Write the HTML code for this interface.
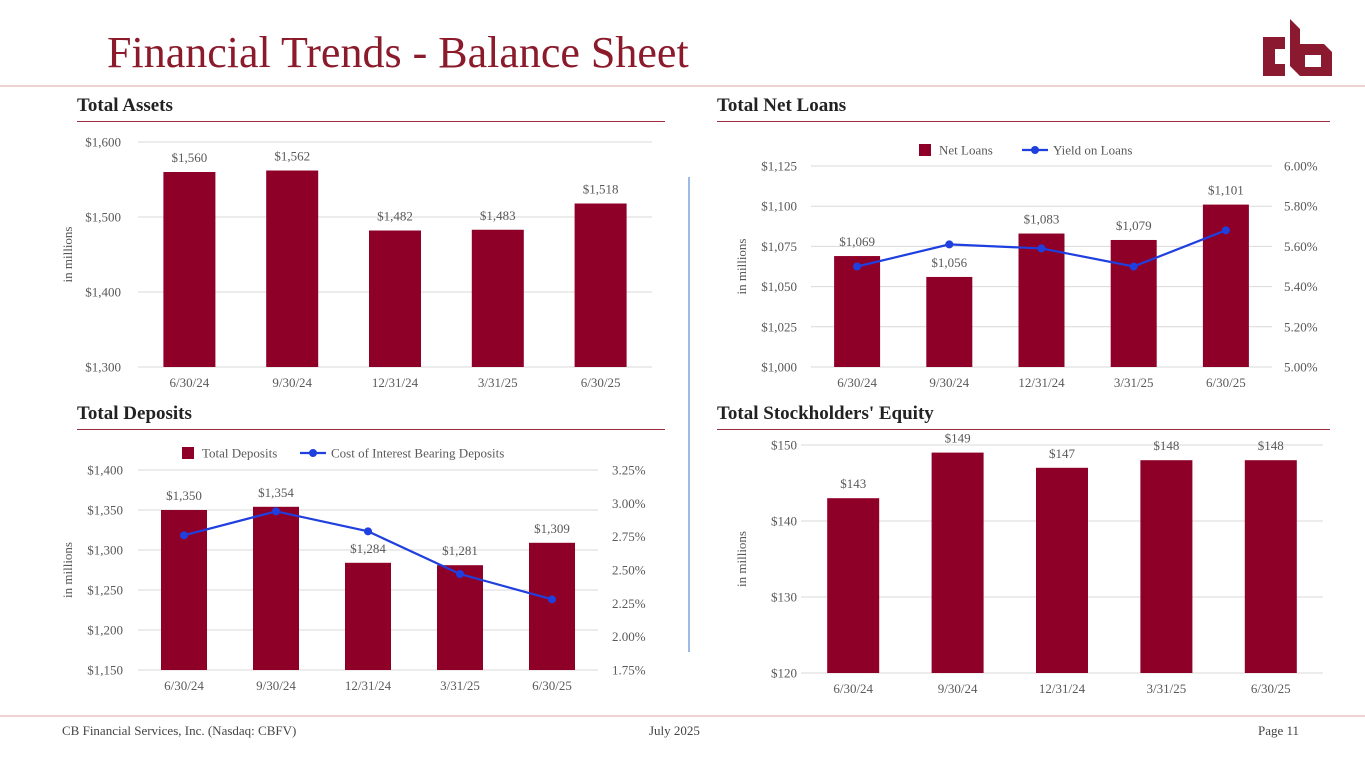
<!DOCTYPE html>
<html><head><meta charset="utf-8"><style>
body{margin:0;width:1365px;height:768px;background:#fff;overflow:hidden;font-family:"Liberation Serif",serif;position:relative}
.t{position:absolute;white-space:nowrap}
.h{position:absolute;font-weight:bold;font-size:19px;color:#222}
.ul{position:absolute;height:1px;background:#a0303f}
svg{position:absolute;left:0;top:0}
</style></head><body>
<div class="t" style="left:107px;top:27px;font-size:44px;color:#8b1a2b">Financial Trends - Balance Sheet</div>
<svg width="1365" height="768">
<g fill="#8b1a30">
<path d="M1263 37h22v12h-10v15h10v12h-22z"/>
<path d="M1290 19l10 10v15l4 0h20l8 8v24h-32l-10-10z"/>
<rect x="1305" y="55" width="16" height="12" fill="#fff"/>
</g>
<line x1="0" y1="86" x2="1365" y2="86" stroke="#e8c4c4" stroke-width="1.5"/>
<line x1="0" y1="716" x2="1365" y2="716" stroke="#e8c4c4" stroke-width="1.5"/>
<line x1="689" y1="177" x2="689" y2="652" stroke="#5b8fd0" stroke-width="1.2"/>
</svg>
<div class="h" style="left:77px;top:95px">Total Assets</div>
<div class="ul" style="left:77px;top:121px;width:588px"></div>
<div class="h" style="left:717px;top:95px">Total Net Loans</div>
<div class="ul" style="left:717px;top:121px;width:613px"></div>
<div class="h" style="left:77px;top:403px">Total Deposits</div>
<div class="ul" style="left:77px;top:429px;width:588px"></div>
<div class="h" style="left:717px;top:403px">Total Stockholders' Equity</div>
<div class="ul" style="left:717px;top:429px;width:613px"></div>
<div class="t" style="left:62px;top:723px;font-size:13px;color:#444">CB Financial Services, Inc. (Nasdaq: CBFV)</div>
<div class="t" style="left:649px;top:723px;font-size:13px;color:#444">July 2025</div>
<div class="t" style="left:1258px;top:723px;font-size:13px;color:#444">Page 11</div>
<svg id="charts" width="1365" height="768"></svg>
<script>
const categories=["6/30/24","9/30/24","12/31/24","3/31/25","6/30/25"];
const assetsValues=[1560,1562,1482,1483,1518];
const assetsTicks=[1300,1400,1500,1600];
const loansValues=[1069,1056,1083,1079,1101];
const loansTicks=[1000,1025,1050,1075,1100,1125];
const yieldValues=[5.50,5.61,5.59,5.50,5.68];
const yieldTicks=[5.0,5.2,5.4,5.6,5.8,6.0];
const depositsValues=[1350,1354,1284,1281,1309];
const depositsTicks=[1150,1200,1250,1300,1350,1400];
const costValues=[2.76,2.94,2.79,2.47,2.28];
const costTicks=[1.75,2.0,2.25,2.5,2.75,3.0,3.25];
const equityValues=[143,149,147,148,148];
const equityTicks=[120,130,140,150];

const svg=document.getElementById('charts');
const NS='http://www.w3.org/2000/svg';
function mk(tag,attrs,text){const e=document.createElementNS(NS,tag);for(const k in attrs)e.setAttribute(k,attrs[k]);if(text!==undefined)e.textContent=text;svg.appendChild(e);return e;}
const fmt=v=>'$'+v.toLocaleString('en-US');
function chart(c){
  const y=v=>c.y0-(v-c.ticks[0])/(c.ticks[c.ticks.length-1]-c.ticks[0])*(c.y0-c.y1);
  const x=i=>c.x0+(i+0.5)*(c.x1-c.x0)/categories.length;
  c.ticks.forEach(t=>{
    const g=mk('line',{x1:c.x0,x2:c.x1,y1:y(t),y2:y(t),stroke:'#d9d9d9','stroke-width':1});
    
    
    const l=mk('text',{x:c.lx,y:y(t)+4.5,'text-anchor':'end','font-size':13,fill:'#595959'},fmt(t));
    
    
  });
  const yt=mk('text',{transform:`translate(${c.tx},${(c.y0+c.y1)/2}) rotate(-90)`,'text-anchor':'middle','font-size':13,fill:'#595959'},'in millions');
  
  
  c.values.forEach((v,i)=>{
    const b=mk('rect',{x:x(i)-c.bw/2,y:y(v),width:c.bw,height:c.y0-y(v),fill:'#8f0029'});
    
    
    const vl=mk('text',{x:x(i),y:y(v)-10,'text-anchor':'middle','font-size':13,fill:'#595959'},fmt(v));
    
    
    const cl=mk('text',{x:x(i),y:c.y0+20,'text-anchor':'middle','font-size':13,fill:'#595959'},categories[i]);
    
    
  });
  if(c.line){
    const r=c.rticks;
    const ry=v=>c.y0-(v-r[0])/(r[r.length-1]-r[0])*(c.y0-c.y1);
    r.forEach(t=>{
      const l=mk('text',{x:c.rx,y:ry(t)+4.5,'font-size':13,fill:'#595959'},t.toFixed(2)+'%');
      
      
    });
    const p=mk('polyline',{points:c.line.map((v,i)=>x(i)+','+ry(v)).join(' '),fill:'none',stroke:'#1f3fdf','stroke-width':2.2});
    
    
    c.line.forEach((v,i)=>{
      const d=mk('circle',{cx:x(i),cy:ry(v),r:4,fill:'#1f3fdf'});
      
      
    });
    const lb=mk('rect',{x:c.lg[0],y:c.lg[1]-6,width:12,height:12,fill:'#8f0029'});
    
    
    const lt=mk('text',{x:c.lg[0]+20,y:c.lg[1]+4.5,'font-size':13,fill:'#595959'},c.names[0]);
    
    
    const ll=mk('line',{x1:c.lg[2],x2:c.lg[2]+26,y1:c.lg[1],y2:c.lg[1],stroke:'#1f3fdf','stroke-width':2.2});
    
    
    const lc=mk('circle',{cx:c.lg[2]+13,cy:c.lg[1],r:4,fill:'#1f3fdf'});
    
    
    const lt2=mk('text',{x:c.lg[2]+31,y:c.lg[1]+4.5,'font-size':13,fill:'#595959'},c.names[1]);
    
    
  }
}
chart({values:assetsValues,ticks:assetsTicks,x0:138,x1:652,y0:367,y1:142,bw:52,lx:121,tx:72});
chart({values:loansValues,ticks:loansTicks,x0:811,x1:1272,y0:367,y1:166,bw:46,lx:797,tx:746,line:yieldValues,rticks:yieldTicks,rx:1284,lg:[919,150,1022],names:['Net Loans','Yield on Loans']});
chart({values:depositsValues,ticks:depositsTicks,x0:138,x1:598,y0:670,y1:470,bw:46,lx:123,tx:72,line:costValues,rticks:costTicks,rx:612,lg:[182,453,300],names:['Total Deposits','Cost of Interest Bearing Deposits']});
chart({values:equityValues,ticks:equityTicks,x0:801,x1:1323,y0:673,y1:445,bw:52,lx:797,tx:746});
</script>
</body></html>
